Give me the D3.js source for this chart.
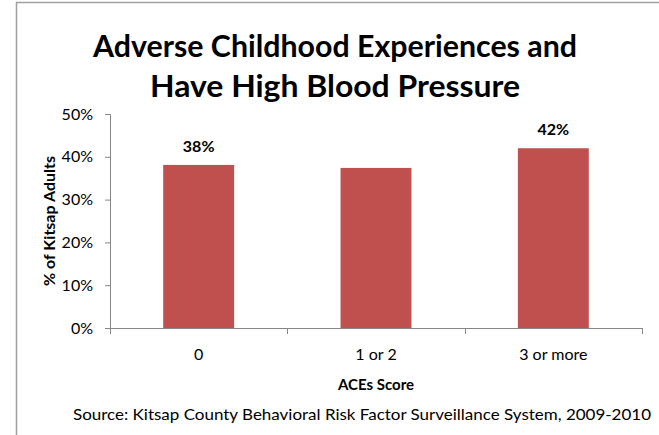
<!DOCTYPE html>
<html>
  <head>
    <script src="https://d3js.org/d3.v7.min.js"></script>
    <style>
      body { margin: 0; background-color: #fff; }
      text { font-family: Lato, 'Open Sans', sans-serif; fill: #000; }
    </style>
  </head>
  <body>
    <svg id="canvas" width="659" height="435"></svg>
  </body>

  <script>
    const categories = ['0', '1 or 2', '3 or more']
    const values = [38.1, 37.4, 42.0]
    const valueLabels = ['38%', '', '42%']
    const yTicks = [0, 10, 20, 30, 40, 50]
    const titleLines = ['Adverse Childhood Experiences and', 'Have High Blood Pressure']

    const margin = { top: 114, right: 17, bottom: 107, left: 110 }
    const width = 659 - margin.left - margin.right
    const height = 435 - margin.top - margin.bottom

    const svg = d3.select('#canvas')

    // outer frame, runs off the right and bottom edges
    svg.append('path')
      .attr('d', 'M16.5,435 L16.5,2.5 L659,2.5')
      .attr('fill', 'none')
      .attr('stroke', '#a0a0a0')
      .attr('stroke-width', 1.5)

    // title
    svg.selectAll('.title').data(titleLines).enter()
      .append('text')
        .attr('class', 'title')
        .attr('x', 335)
        .attr('y', (d, i) => 57 + i * 40)
        .attr('text-anchor', 'middle')
        .attr('font-size', 30)
        .attr('font-weight', 'bold')
        .attr('textLength', (d, i) => i === 0 ? 484 : 370)
        .attr('lengthAdjust', 'spacingAndGlyphs')
        .text(d => d)

    const g = svg.append('g').attr('transform', `translate(${margin.left}, ${margin.top})`)

    const x = d3.scaleBand().domain(categories).range([0, width]).paddingInner(0.6).paddingOuter(0.3)
    const y = d3.scaleLinear().domain([0, 50]).range([height, 0])

    // bars
    g.selectAll('rect').data(values).enter()
      .append('rect')
        .attr('x', (d, i) => x(categories[i]))
        .attr('y', d => y(d))
        .attr('width', x.bandwidth())
        .attr('height', d => height - y(d))
        .attr('fill', '#c0504d')

    // value labels
    g.selectAll('.vlabel').data(values).enter()
      .append('text')
        .attr('class', 'vlabel')
        .attr('x', (d, i) => x(categories[i]) + x.bandwidth() / 2)
        .attr('y', d => y(d) - 13)
        .attr('text-anchor', 'middle')
        .attr('font-size', 16)
        .attr('font-weight', 'bold')
        .text((d, i) => valueLabels[i])

    // y axis
    const yAxis = g.append('g')
      .call(d3.axisLeft(y).tickValues(yTicks).tickSize(5).tickPadding(12).tickFormat(d => d + '%'))
    yAxis.select('.domain').attr('stroke', '#868686').attr('d', `M-5,0.5H0.5V${height}`)
    yAxis.selectAll('.tick line').attr('stroke', '#868686')
    yAxis.selectAll('.tick text')
      .attr('font-size', 16)
      .attr('font-family', 'Lato, sans-serif')
      .attr('fill', '#000')

    // x axis: ticks sit between categories
    const xAxis = g.append('g').attr('transform', `translate(0, ${height})`)
    xAxis.append('line')
      .attr('x1', 0).attr('x2', width)
      .attr('y1', 0.5).attr('y2', 0.5)
      .attr('stroke', '#868686')
    const bounds = [0].concat(categories.map(c => x(c) - x.step() * x.paddingInner() / 2 + x.step()))
    xAxis.selectAll('.xtick').data(bounds).enter()
      .append('line')
        .attr('class', 'xtick')
        .attr('x1', d => Math.round(d) + 0.5).attr('x2', d => Math.round(d) + 0.5)
        .attr('y1', 0).attr('y2', 6)
        .attr('stroke', '#868686')
    xAxis.selectAll('.xlabel').data(categories).enter()
      .append('text')
        .attr('class', 'xlabel')
        .attr('x', d => x(d) + x.bandwidth() / 2)
        .attr('y', 32)
        .attr('text-anchor', 'middle')
        .attr('font-size', 16)
        .text(d => d)

    // axis titles
    g.append('text')
      .attr('x', width / 2)
      .attr('y', height + 62)
      .attr('text-anchor', 'middle')
      .attr('font-size', 15)
      .attr('font-weight', 'bold')
      .text('ACEs Score')

    g.append('text')
      .attr('transform', `translate(-55, ${height / 2}) rotate(-90)`)
      .attr('text-anchor', 'middle')
      .attr('font-size', 16)
      .attr('font-weight', 'bold')
      .text('% of Kitsap Adults')

    // source note
    svg.append('text')
      .attr('x', 362)
      .attr('y', 420)
      .attr('text-anchor', 'middle')
      .attr('font-size', 15)
      .attr('textLength', 578)
      .attr('lengthAdjust', 'spacingAndGlyphs')
      .text('Source: Kitsap County Behavioral Risk Factor  Surveillance System,  2009-2010')
  </script>
</html>
